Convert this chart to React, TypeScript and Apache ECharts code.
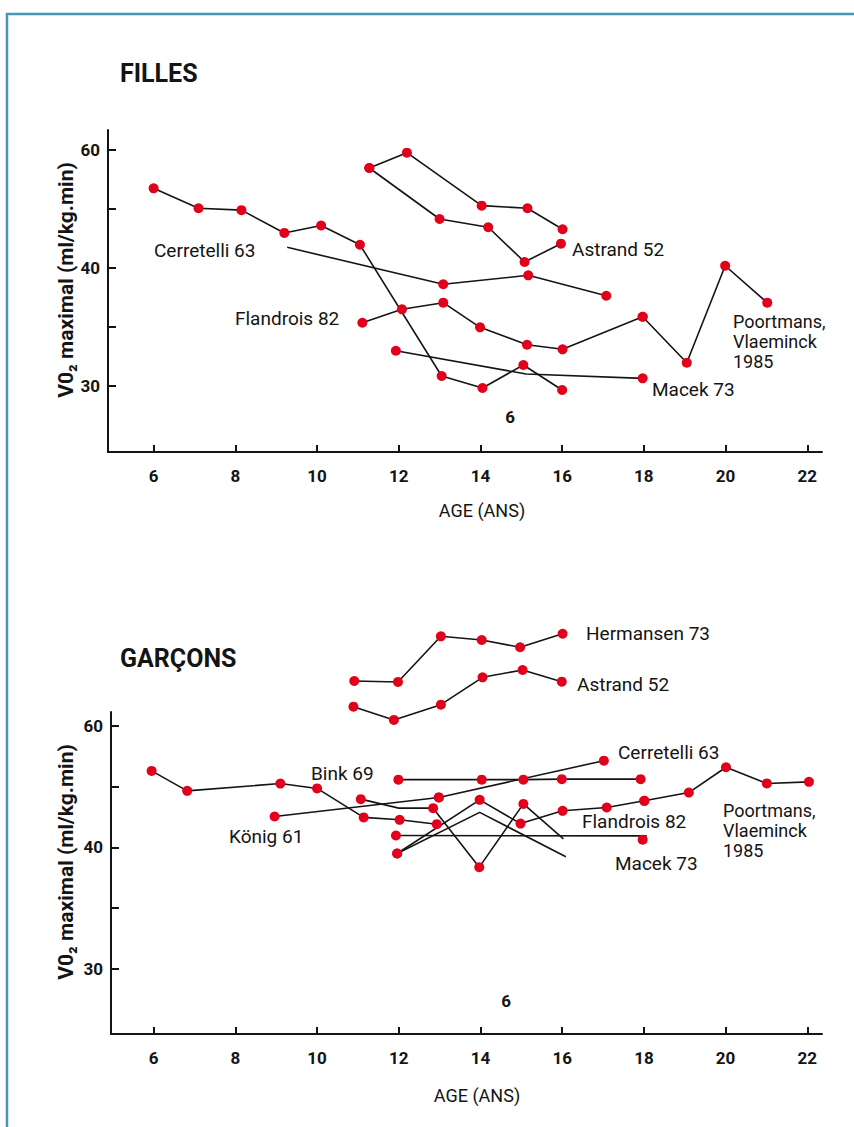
import React, { useEffect, useRef } from "react";
import * as echarts from "echarts";

type Pt = [number, number];

// ---- axis ticks ----
const xTicks = [6, 8, 10, 12, 14, 16, 18, 20, 22];
const yTicks = [30, 35, 40, 45, 50];
const yLabelValues = [30, 40, 50];
const yLabelTexts = ["30", "40", "60"];

// ---- FILLES (girls) ----
const fSeriesA: Pt[] = [[6, 46.75], [7.1, 45.06], [8.15, 44.9], [9.2, 42.97], [10.1, 43.6], [11.05, 41.97], [13.05, 30.85], [14.05, 29.83], [15.05, 31.78], [16, 29.66]];
const fAstrandA: Pt[] = [[11.28, 48.47], [12.2, 49.77], [14.03, 45.28], [15.15, 45.06], [16.01, 43.28]];
const fAstrandB: Pt[] = [[11.28, 48.47], [13.0, 44.15], [14.19, 43.45], [15.08, 40.51], [15.97, 42.06]];
const fCerretelli: Pt[] = [[9.27, 41.75], [13.09, 38.62], [15.17, 39.38], [17.08, 37.65]];
const fCerretelliHidden = [0];
const fFlandrois: Pt[] = [[11.11, 35.36], [12.08, 36.5], [13.09, 37.06], [13.99, 34.97], [15.14, 33.5], [16.01, 33.11], [17.97, 35.87]];
const fPoortmans: Pt[] = [[17.97, 35.87], [19.05, 31.97], [19.99, 40.19], [21.02, 37.06]];
const fMacek: Pt[] = [[11.93, 32.99], [15.12, 31.02], [17.97, 30.65]];
const fMacekHidden = [1];

// ---- GARÇONS (boys) ----
const gHermansen: Pt[] = [[10.91, 53.67], [11.98, 53.59], [13.03, 57.34], [14.03, 57.04], [14.97, 56.44], [16.01, 57.55]];
const gAstrand: Pt[] = [[10.89, 51.56], [11.88, 50.47], [13.03, 51.72], [14.05, 53.97], [15.03, 54.57], [15.99, 53.61]];
const gBinkA: Pt[] = [[5.95, 46.28], [6.82, 44.64], [9.1, 45.24], [10.0, 44.84], [11.14, 42.46], [12.02, 42.26], [12.93, 41.9]];
const gBinkB: Pt[] = [[11.07, 43.96], [12.0, 43.22], [12.84, 43.22], [13.97, 38.37], [15.05, 43.57], [16.03, 40.7]];
const gBinkBHidden = [1, 5];
const gBinkC: Pt[] = [[11.99, 45.56], [14.03, 45.56], [15.05, 45.56], [15.99, 45.6], [17.92, 45.6]];
const gKoenig: Pt[] = [[8.96, 42.53], [12.98, 44.1]];
const gCerretelli: Pt[] = [[12.98, 44.1], [17.02, 47.12]];
const gFlandrois: Pt[] = [[11.96, 39.49], [13.98, 43.9], [14.98, 41.95], [16.01, 43.0], [17.09, 43.27], [18.01, 43.82]];
const gPoortmans: Pt[] = [[18.01, 43.82], [19.1, 44.5], [20.01, 46.58], [21.01, 45.25], [22.04, 45.38]];
const gCross: Pt[] = [[11.96, 39.49], [13.98, 42.87], [16.09, 39.22]];
const gCrossHidden = [1, 2];
const gMacek: Pt[] = [[11.93, 40.97], [18.07, 40.94]];
const gMacekHidden = [1];
const gMacekEnd: Pt[] = [[17.97, 40.62]];

const FONT = "Roboto, 'Open Sans', sans-serif";
const INK = "#141414";
const RED = "#e2001a";

function lineAndDots(pts: Pt[], hidden: number[], gi: number, showLine = true) {
  const out: any[] = [];
  if (showLine) {
    out.push({
      type: "line",
      xAxisIndex: gi,
      yAxisIndex: gi,
      data: pts,
      symbol: "none",
      clip: false,
      z: 2,
      lineStyle: { color: INK, width: 1.6 },
      silent: true,
    });
  }
  out.push({
    type: "scatter",
    xAxisIndex: gi,
    yAxisIndex: gi,
    data: pts.filter((_, i) => !hidden.includes(i)),
    symbol: "circle",
    symbolSize: 10,
    clip: false,
    z: 3,
    itemStyle: { color: RED, opacity: 1 },
    silent: true,
  });
  return out;
}

function xAxisCfg(gi: number, min: number, max: number) {
  return {
    gridIndex: gi,
    type: "value",
    min,
    max,
    axisLine: { show: true, onZero: false, lineStyle: { color: INK, width: 2 } },
    axisTick: { show: true, inside: true, length: 7, customValues: xTicks, lineStyle: { color: INK, width: 2 } },
    axisLabel: { customValues: xTicks, margin: 15, fontFamily: FONT, fontWeight: "bold", fontSize: 17, color: INK },
    splitLine: { show: false },
  };
}

function yAxisCfg(gi: number, min: number, max: number) {
  return {
    gridIndex: gi,
    type: "value",
    min,
    max,
    axisLine: { show: true, onZero: false, lineStyle: { color: INK, width: 2 } },
    axisTick: { show: true, inside: true, length: 8, customValues: yTicks, lineStyle: { color: INK, width: 2 } },
    axisLabel: {
      customValues: yLabelValues,
      margin: 8,
      fontFamily: FONT,
      fontWeight: "bold",
      fontSize: 17,
      color: INK,
      formatter: (v: number) => {
        const i = yLabelValues.indexOf(Math.round(v));
        return i >= 0 ? yLabelTexts[i] : "";
      },
    },
    splitLine: { show: false },
  };
}

function txt(text: string, x: number, y: number, opts: any = {}) {
  return {
    type: "text",
    x,
    y,
    rotation: opts.rotation || 0,
    silent: true,
    z: 10,
    style: {
      text,
      fontFamily: FONT,
      fontSize: opts.size || 19,
      fontWeight: opts.bold ? "bold" : "normal",
      fill: INK,
      align: opts.align || "left",
      verticalAlign: opts.va || "middle",
    },
  };
}

export default function App() {
  const ref = useRef<HTMLDivElement>(null);
  useEffect(() => {
    if (!ref.current) return;
    const chart = echarts.init(ref.current, undefined, { renderer: "svg" });
    const series = [
      ...lineAndDots(fSeriesA, [], 0),
      ...lineAndDots(fAstrandA, [], 0),
      ...lineAndDots(fAstrandB, [], 0),
      ...lineAndDots(fCerretelli, fCerretelliHidden, 0),
      ...lineAndDots(fFlandrois, [], 0),
      ...lineAndDots(fPoortmans, [], 0),
      ...lineAndDots(fMacek, fMacekHidden, 0),
      ...lineAndDots(gHermansen, [], 1),
      ...lineAndDots(gAstrand, [], 1),
      ...lineAndDots(gBinkA, [], 1),
      ...lineAndDots(gBinkB, gBinkBHidden, 1),
      ...lineAndDots(gBinkC, [], 1),
      ...lineAndDots(gKoenig, [], 1),
      ...lineAndDots(gCerretelli, [], 1),
      ...lineAndDots(gFlandrois, [], 1),
      ...lineAndDots(gPoortmans, [], 1),
      ...lineAndDots(gCross, gCrossHidden, 1),
      ...lineAndDots(gMacek, gMacekHidden, 1),
      ...lineAndDots(gMacekEnd, [], 1, false),
    ];
    const yTitle = "V0\u2082 maximal (ml/kg.min)";
    chart.setOption({
      animation: false,
      backgroundColor: "#ffffff",
      grid: [
        { left: 108, top: 130, width: 714, height: 322 },
        { left: 111, top: 712, width: 711, height: 322 },
      ],
      xAxis: [xAxisCfg(0, 4.884, 22.36), xAxisCfg(1, 4.955, 22.36)],
      yAxis: [yAxisCfg(0, 24.41, 51.69), yAxisCfg(1, 24.66, 51.12)],
      series,
      graphic: [
        {
          type: "rect",
          silent: true,
          shape: { x: 7, y: 14, width: 900, height: 1200 },
          style: { fill: "none", stroke: "#4795b8", lineWidth: 2.5 },
        },
        // girls
        txt("FILLES", 120, 73, { bold: true, size: 25 }),
        txt("Cerretelli 63", 154, 250),
        txt("Astrand 52", 572, 249),
        txt("Flandrois 82", 235, 318),
        txt("Poortmans,", 733, 321, { size: 18 }),
        txt("Vlaeminck", 733, 341, { size: 18 }),
        txt("1985", 733, 361, { size: 18 }),
        txt("Macek 73", 652, 389),
        txt("6", 510, 417, { bold: true, size: 17, align: "center" }),
        txt("AGE (ANS)", 482, 510, { size: 18, align: "center" }),
        txt(yTitle, 66, 280, { bold: true, size: 21, align: "center", rotation: Math.PI / 2 }),
        // boys
        txt("GARÇONS", 120, 658, { bold: true, size: 25 }),
        txt("Hermansen 73", 586, 633),
        txt("Astrand 52", 577, 684),
        txt("Cerretelli 63", 618, 752),
        txt("Bink 69", 311, 773),
        txt("König 61", 229, 836),
        txt("Flandrois 82", 582, 821),
        txt("Macek 73", 615, 863),
        txt("Poortmans,", 723, 810, { size: 18 }),
        txt("Vlaeminck", 723, 830, { size: 18 }),
        txt("1985", 723, 850, { size: 18 }),
        txt("6", 506, 1001, { bold: true, size: 17, align: "center" }),
        txt("AGE (ANS)", 477, 1095, { size: 18, align: "center" }),
        txt(yTitle, 66, 862, { bold: true, size: 21, align: "center", rotation: Math.PI / 2 }),
      ],
    });
    return () => chart.dispose();
  }, []);
  return (
    <div
      ref={ref}
      style={{ position: "absolute", left: 0, top: 0, width: 854, height: 1127, background: "#fff" }}
    />
  );
}
